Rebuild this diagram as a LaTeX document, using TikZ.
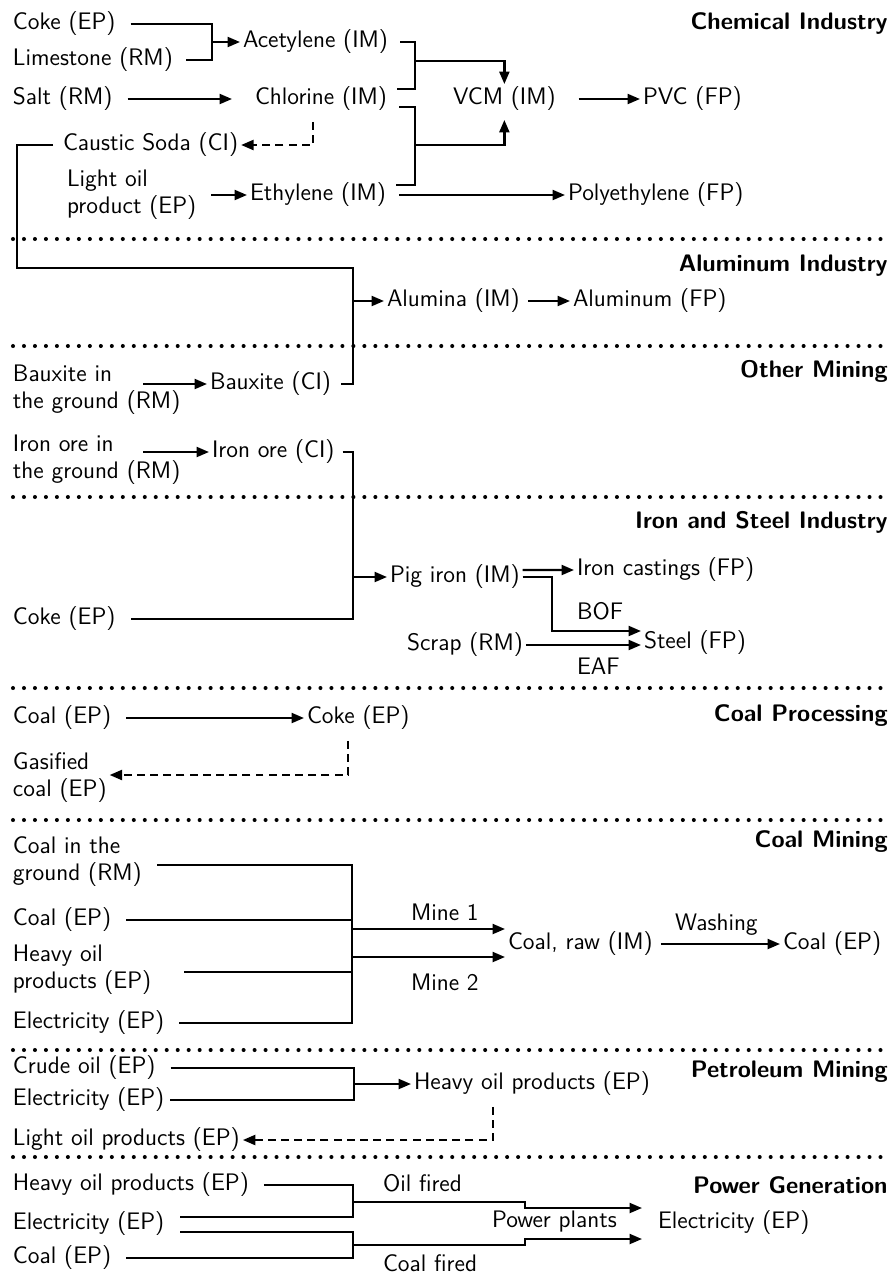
\documentclass[tikz,border=0pt]{standalone}
\usepackage{tikz}
\usetikzlibrary{arrows.meta, positioning, calc}

\begin{document}
\begin{tikzpicture}[x=0.02cm, y=-0.02cm,
  lbl/.style={font=\fontsize{13.6}{15.4}\selectfont\sffamily, inner sep=0pt, outer sep=0.06cm, anchor=west, align=left},
  hdr/.style={font=\fontsize{13.6}{15.4}\selectfont\sffamily\bfseries, inner sep=0pt, anchor=east},
  ln/.style={line width=1.3pt},
  arr/.style={line width=1.3pt, -{Triangle[length=0.25cm, width=0.2cm]}},
  darr/.style={line width=1.3pt, dash pattern=on 4.5pt off 3pt, -{Triangle[length=0.25cm, width=0.2cm]}},
  sep/.style={line width=2.3pt, line cap=round, dash pattern=on 0pt off 6.25pt},
  gap/.style={shorten <=0.24cm},
  gapend/.style={shorten >=0.2cm}]
  \useasboundingbox (0,0) rectangle (893,1275);

  % section separators
  \foreach \y in {239,346,497,688,820,1050,1157}{
    \draw[sep] (13,\y) -- (888,\y);
  }

  % section titles
  \node[hdr] (hChem) at (888,24) {Chemical Industry};
  \node[hdr] (hAlu) at (888,266) {Aluminum Industry};
  \node[hdr] (hOth) at (888,371) {Other Mining};
  \node[hdr] (hIron) at (888,522) {Iron and Steel Industry};
  \node[hdr] (hCp) at (888,716) {Coal Processing};
  \node[hdr] (hCm) at (888,842) {Coal Mining};
  \node[hdr] (hPm) at (888,1072) {Petroleum Mining};
  \node[hdr] (hPg) at (888,1185) {Power Generation};

  % Chemical Industry
  \node[lbl] (coke1) at (10,24) {Coke (EP)};
  \node[lbl] (lime) at (10,60) {Limestone (RM)};
  \node[lbl] (acet) at (240,42) {Acetylene (IM)};
  \node[lbl] (salt) at (10,99) {Salt (RM)};
  \node[lbl] (chlor) at (252,99) {Chlorine (IM)};
  \node[lbl] (vcm) at (450,99) {VCM (IM)};
  \node[lbl] (pvc) at (640,99) {PVC (FP)};
  \node[lbl] (caus) at (60,145) {Caustic Soda (CI)};
  \node[lbl] (light1) at (64,195) {Light oil\\product (EP)};
  \node[lbl] (ethyl) at (247,195) {Ethylene (IM)};
  \node[lbl] (poly) at (565,195) {Polyethylene (FP)};
  \coordinate (jAc) at (212,42);
  \coordinate (jV1) at (415,61);
  \coordinate (jV2) at (415,145);
  \coordinate (jCs) at (313,145);

  \draw[ln, gap, gapend] (coke1.east) -| (jAc) |- (lime.east);
  \draw[arr] (jAc) -- (acet.west);
  \draw[arr, gap, shorten >=0.4cm] (salt.east) -- (chlor.west);
  \draw[ln, shorten <=0.18cm, shorten >=0.14cm] (acet.east) -| (jV1) |- ([yshift=0.2cm]chlor.east);
  \draw[arr] (jV1) -| (vcm.north);
  \draw[ln, shorten <=0.18cm, shorten >=0.14cm] ([yshift=-0.16cm]chlor.east) -| (jV2) |- ([yshift=0.2cm]ethyl.east);
  \draw[arr, shorten >=0.12cm] (jV2) -| (vcm.south);
  \draw[arr, shorten <=0.4cm] (vcm.east) -- (pvc.west);
  \draw[darr, shorten <=0.16cm] (chlor.south -| jCs) -- (jCs) -- (caus.east);
  \draw[arr, gap] (light1.east) -- (ethyl.west);
  \draw[arr, shorten <=0.2cm] (ethyl.east) -- (poly.west);

  % Other Mining
  \node[lbl] (bxg) at (10,390) {Bauxite in\\the ground (RM)};
  \node[lbl] (baux) at (207,384) {Bauxite (CI)};
  \node[lbl] (irg) at (10,460) {Iron ore in\\the ground (RM)};
  \node[lbl] (iron) at (209,452) {Iron ore (CI)};
  \coordinate (bxS) at (143,384);
  \coordinate (irS) at (143,452);
  \draw[arr] (bxS) -- (baux.west);
  \draw[arr] (irS) -- (iron.west);

  % Aluminum Industry
  \node[lbl] (alumina) at (384,301) {Alumina (IM)};
  \node[lbl] (alum) at (570,301) {Aluminum (FP)};
  \coordinate (jCa) at (17,268);
  \coordinate (jAl) at (353,301);
  \draw[ln, shorten <=0.14cm, shorten >=0.14cm] (caus.west) -| (jCa) -| (jAl) |- (baux.east);
  \draw[arr] (jAl) -- (alumina.west);
  \draw[arr, shorten <=0.1cm] (alumina.east) -- (alum.west);

  % Iron and Steel Industry
  \node[lbl] (coke2) at (10,619) {Coke (EP)};
  \node[lbl] (pig) at (387,577) {Pig iron (IM)};
  \node[lbl] (cast) at (574,570) {Iron castings (FP)};
  \node[lbl] (scrap) at (404,645) {Scrap (RM)};
  \node[lbl] (steel) at (641,643) {Steel (FP)};
  \node[lbl] (bof) at (574,611) {BOF};
  \node[lbl] (eaf) at (574,666) {EAF};
  \coordinate (jPi) at (353,577);
  \coordinate (jBo) at (552,631);
  \draw[ln, shorten <=0.1cm, shorten >=0.24cm] (iron.east) -| (jPi) |- (coke2.east);
  \draw[arr] (jPi) -- (pig.west);
  \draw[arr] ([yshift=0.14cm]pig.east) -- (cast.west);
  \draw[arr] (pig.east) -| (jBo) -- (jBo -| steel.west);
  \draw[arr] (scrap.east) -- (scrap.east -| steel.west);

  % Coal Processing
  \node[lbl] (coal1) at (10,718) {Coal (EP)};
  \node[lbl] (coke3) at (304,718) {Coke (EP)};
  \node[lbl] (gas) at (10,778) {Gasified\\coal (EP)};
  \coordinate (jGs) at (348,775);
  \draw[arr, gap] (coal1.east) -- (coke3.west);
  \draw[darr, shorten <=0.16cm] (coke3.south -| jGs) -- (jGs) -- (jGs -| gas.east);

  % Coal Mining
  \node[lbl] (cig) at (10,862) {Coal in the\\ground (RM)};
  \node[lbl] (coal2) at (10,920) {Coal (EP)};
  \node[lbl] (hvy1) at (10,970) {Heavy oil\\products (EP)};
  \node[lbl] (el1) at (10,1023) {Electricity (EP)};
  \node[lbl] (raw) at (505,944) {Coal, raw (IM)};
  \node[lbl] (coal3) at (780,944) {Coal (EP)};
  \node[lbl] (mine1) at (408,912) {Mine 1};
  \node[lbl] (mine2) at (408,982) {Mine 2};
  \node[lbl] (wash) at (672,925) {Washing};
  \coordinate (cigS) at (157,865);
  \coordinate (hvyS) at (184,972);
  \coordinate (mTop) at (352,865);
  \coordinate (jM1) at (352,929);
  \coordinate (jM2) at (352,957);
  \draw[ln, shorten >=0.24cm] (cigS) -- (mTop) |- (el1.east);
  \draw[ln, gap] (coal2.east) -- (coal2.east -| mTop);
  \draw[ln] (hvyS) -- (hvyS -| mTop);
  \draw[arr] (jM1) -- (jM1 -| raw.west);
  \draw[arr] (jM2) -- (jM2 -| raw.west);
  \draw[arr, shorten <=0.1cm] (raw.east) -- (coal3.west);

  % Petroleum Mining
  \node[lbl] (crude) at (10,1068) {Crude oil (EP)};
  \node[lbl] (el2) at (10,1100) {Electricity (EP)};
  \node[lbl] (hvy2) at (411,1084) {Heavy oil products (EP)};
  \node[lbl] (light2) at (10,1140) {Light oil products (EP)};
  \coordinate (jPe) at (354,1084);
  \coordinate (jLo) at (493,1140);
  \draw[ln, gap, shorten >=0.06cm] (crude.east) -| (jPe) |- (el2.east);
  \draw[arr] (jPe) -- (hvy2.west);
  \draw[darr, shorten <=0.16cm] (hvy2.south -| jLo) -- (jLo) -- (light2.east);

  % Power Generation
  \node[lbl] (hvy3) at (10,1185) {Heavy oil products (EP)};
  \node[lbl] (el3) at (10,1224) {Electricity (EP)};
  \node[lbl] (coal4) at (10,1258) {Coal (EP)};
  \node[lbl] (el4) at (655,1223) {Electricity (EP)};
  \node[lbl] (oilf) at (380,1183) {Oil fired};
  \node[lbl] (coalf) at (380,1263) {Coal fired};
  \node[lbl] (plants) at (489,1222) {Power plants};
  \coordinate (jOi) at (353,1202);
  \coordinate (jCo) at (353,1245);
  \coordinate (sOi) at (525,1208);
  \coordinate (sCo) at (525,1239);
  \draw[ln, gap, shorten >=0.26cm] (hvy3.east) -| (jOi) |- ([yshift=0.14cm]el3.east);
  \draw[ln, gap, shorten >=0.26cm] (coal4.east) -| (jCo) |- ([yshift=-0.16cm]el3.east);
  \draw[arr, shorten >=0.26cm] (jOi) -| (sOi) -- (sOi -| el4.west);
  \draw[arr, shorten >=0.26cm] (jCo) -| (sCo) -- (sCo -| el4.west);
\end{tikzpicture}
\end{document}
